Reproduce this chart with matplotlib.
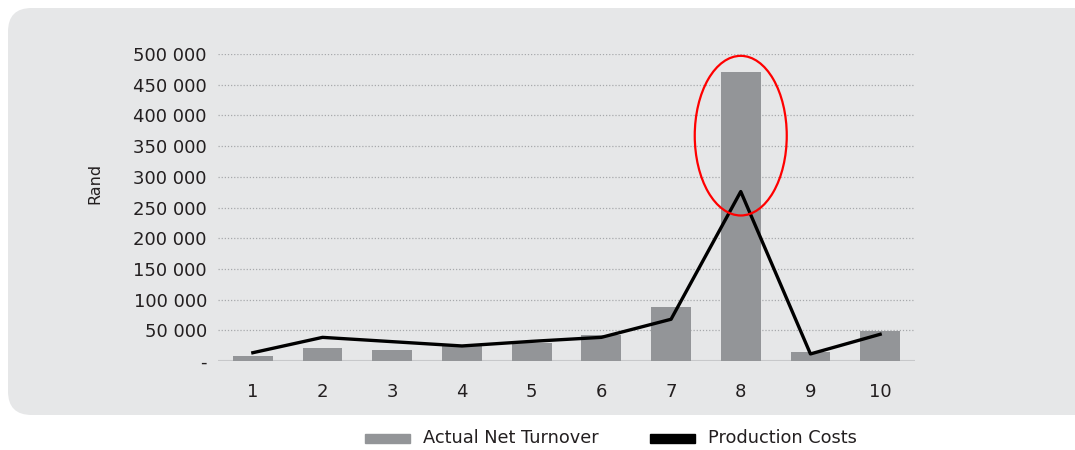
import matplotlib.pyplot as plt
from matplotlib.patches import FancyBboxPatch, Ellipse
from matplotlib.ticker import FuncFormatter

plt.rcParams['font.family'] = ['DejaVu Sans']

# Monthly figures in Rand
periods = ['1', '2', '3', '4', '5', '6', '7', '8', '9', '10']
net_turnover = [8000, 21500, 18500, 24000, 29000, 42000, 88000, 470000, 15000, 49500]
production_costs = [13500, 38500, 31500, 24500, 32000, 38500, 68000, 276000, 11500, 43500]
y_ticks = [0, 50000, 100000, 150000, 200000, 250000, 300000, 350000, 400000, 450000, 500000]

bar_color = '#939598'
text_color = '#231f20'

fig = plt.figure(figsize=(10.75, 4.5), dpi=100)
fig.patch.set_facecolor('white')

# rounded grey panel behind the chart
panel = FancyBboxPatch((8 / 1075, 35 / 450), 1.2, 407 / 450,
                       boxstyle='round,pad=0,rounding_size=0.022',
                       transform=fig.transFigure, facecolor='#e6e7e8',
                       edgecolor='none', zorder=0, mutation_aspect=1075 / 450)
fig.patches.append(panel)

ax = fig.add_axes([218 / 1075, 89 / 450, 697 / 1075, 307 / 450])
ax.set_zorder(2)
ax.set_facecolor('none')

x = range(len(periods))
ax.bar(x, net_turnover, width=0.57, color=bar_color, zorder=2)
ax.plot(x, production_costs, color='black', linewidth=2.4, zorder=3)

ax.set_xlim(-0.5, len(periods) - 0.5)
ax.set_ylim(0, 500000)
ax.set_yticks(y_ticks)
ax.yaxis.set_major_formatter(FuncFormatter(
    lambda v, p: '-' if v == 0 else f'{int(v):,}'.replace(',', ' ')))
ax.set_xticks(list(x))
ax.set_xticklabels(periods)

for v in y_ticks[1:]:
    ax.axhline(v, color='#a7a9ac', linestyle=(0, (1, 1.5)), linewidth=0.9, zorder=1)
ax.axhline(0, color='#c7c8ca', linewidth=1.5, zorder=1)

for s in ax.spines.values():
    s.set_visible(False)
ax.tick_params(axis='both', length=0, labelsize=13, colors=text_color)
ax.tick_params(axis='x', pad=16)
ax.tick_params(axis='y', pad=8)

fig.text(95 / 1075, 1 - 183 / 450, 'Rand', rotation=90, ha='center', va='center',
         fontsize=11.5, color=text_color)

# highlight around the peak period
ax.add_patch(Ellipse((7, 367000), 1.32, 260000, fill=False, edgecolor='red',
                     linewidth=1.6, zorder=4, clip_on=False))

# legend below the panel
fig.patches.append(plt.Rectangle((365 / 1075, 1 - 443 / 450), 45 / 1075, 9 / 450,
                                 transform=fig.transFigure, color=bar_color))
fig.text(423 / 1075, 1 - 438 / 450, 'Actual Net Turnover', va='center',
         fontsize=12.8, color=text_color)
fig.patches.append(plt.Rectangle((650 / 1075, 1 - 443 / 450), 45 / 1075, 9 / 450,
                                 transform=fig.transFigure, color='black'))
fig.text(708 / 1075, 1 - 438 / 450, 'Production Costs', va='center',
         fontsize=12.8, color=text_color)

fig.savefig('out.png', dpi=100)
